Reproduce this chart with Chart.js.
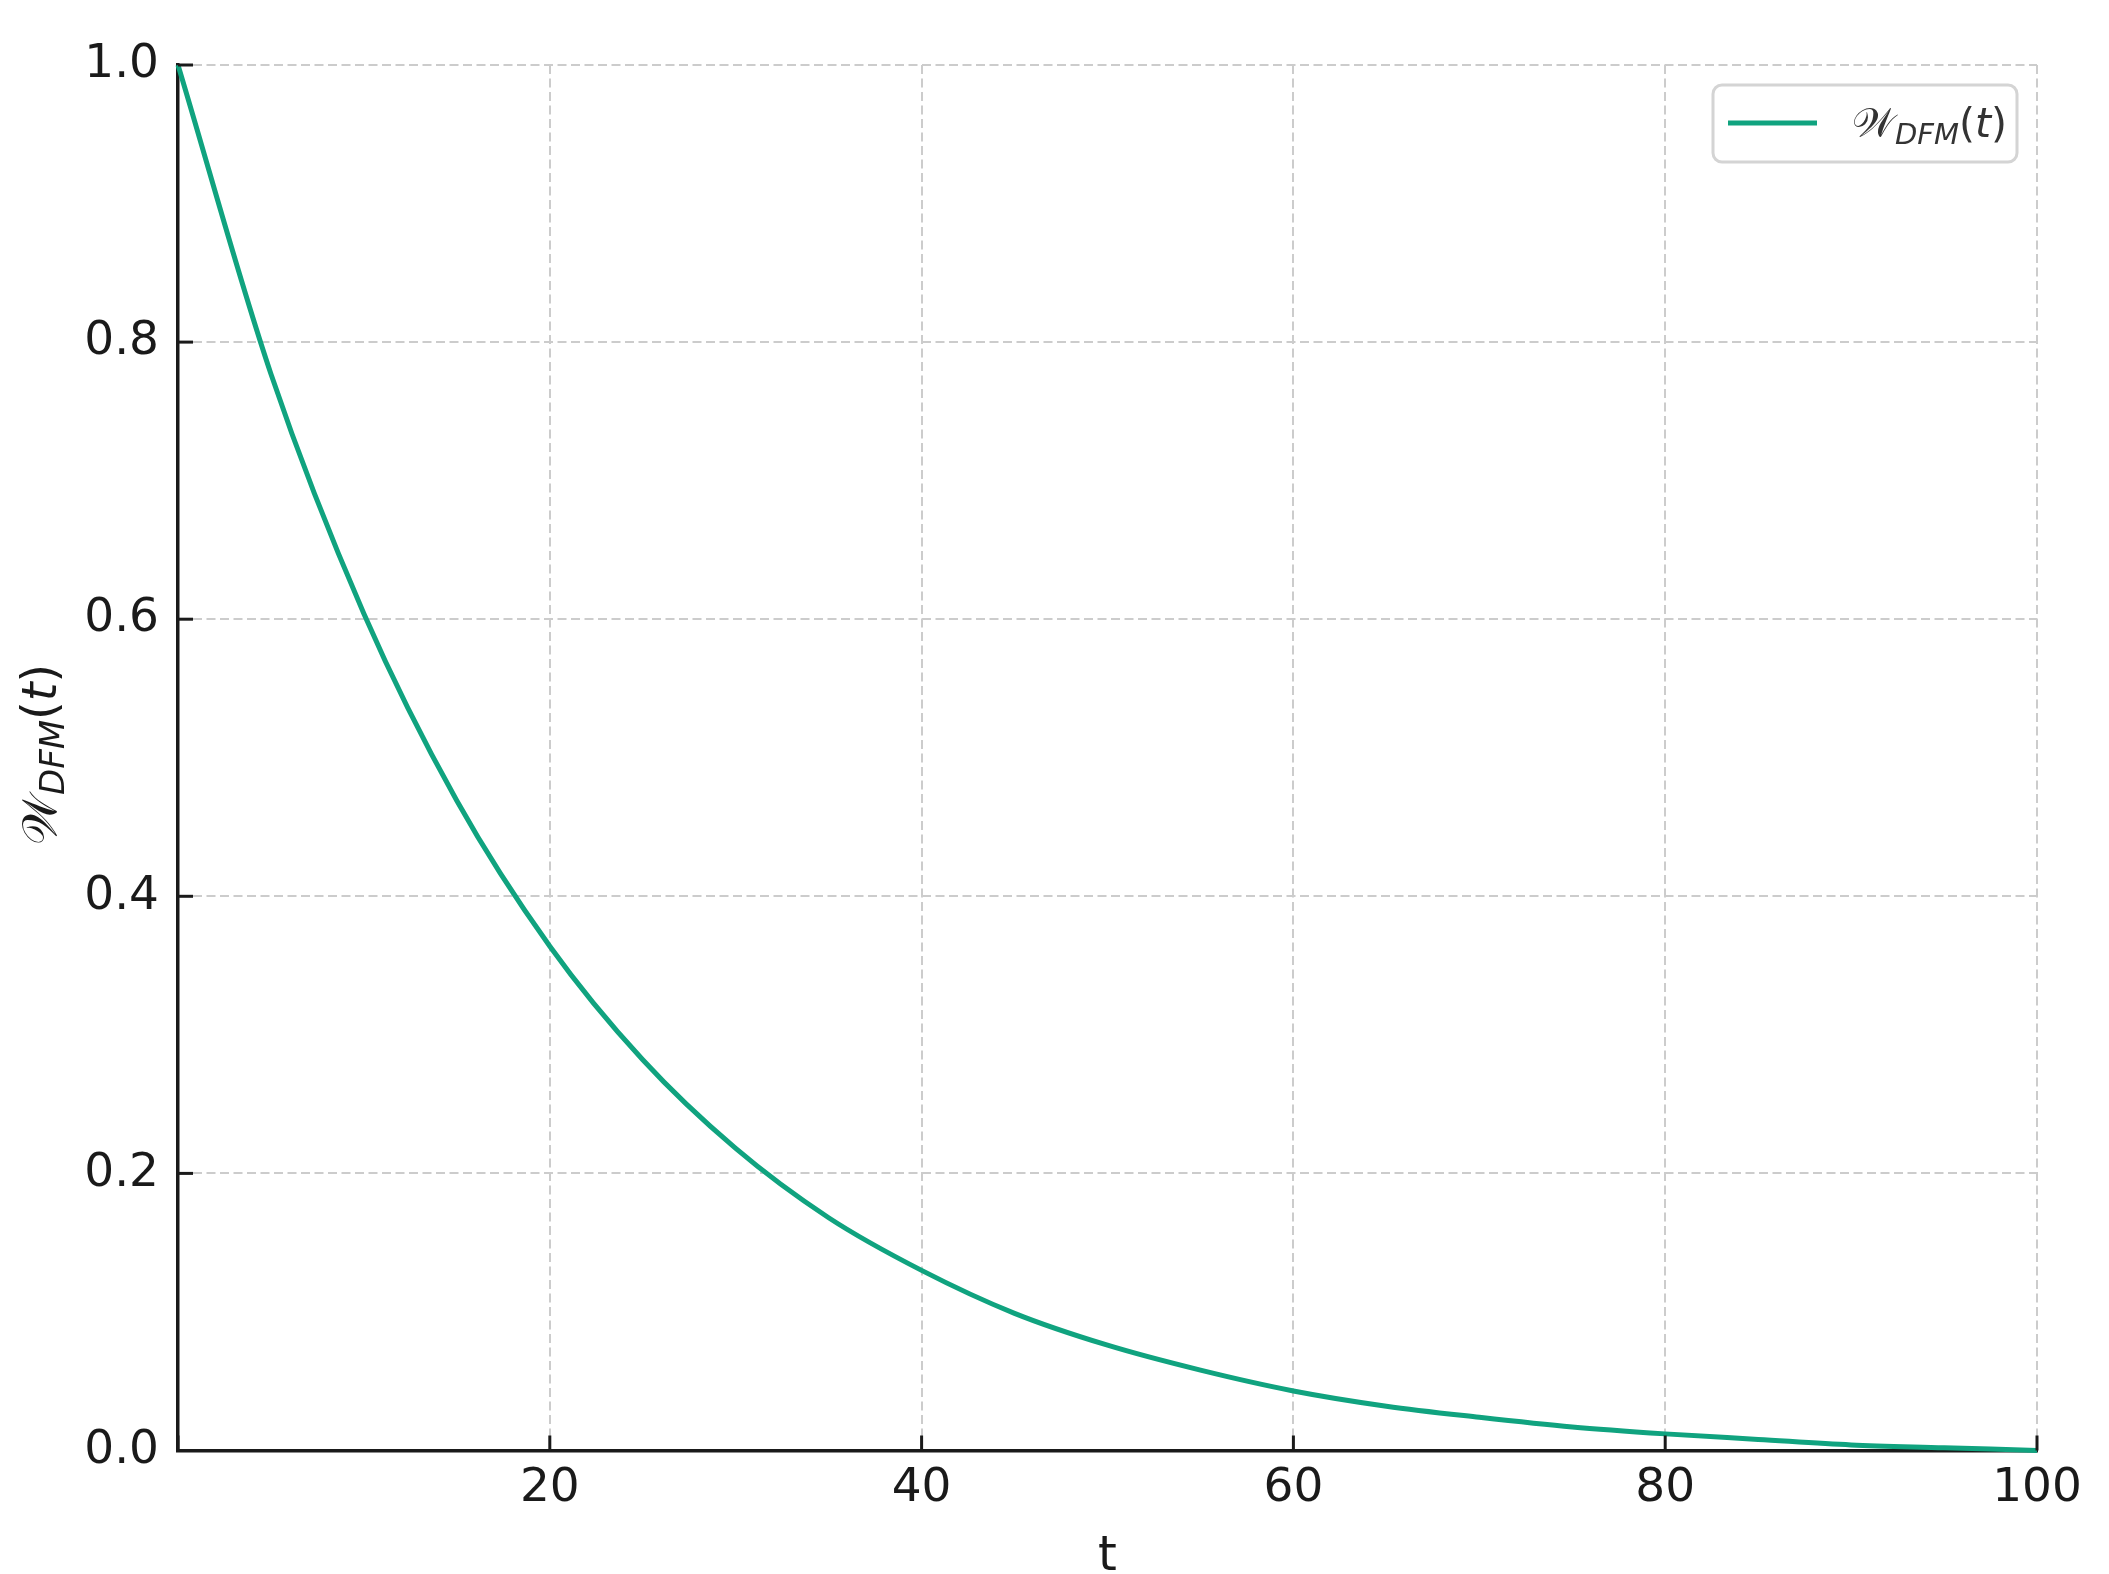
<!DOCTYPE html>
<html>
<head>
<meta charset="utf-8">
<script src="https://cdn.jsdelivr.net/npm/chart.js@4"></script>
<style>
  html, body { margin: 0; padding: 0; background: #fff; }
  #wrap { width: 2109px; height: 1574px; }
</style>
</head>
<body>
<div id="wrap"><canvas id="myChart" width="2109" height="1574"></canvas></div>
<script>
// values
var tValues = [0, 5, 10, 15, 20, 25, 30, 35, 40, 45, 50, 55, 60, 65, 70, 75, 80, 85, 90, 95, 100];
var wValues = [1.000, 0.777, 0.604, 0.469, 0.364, 0.282, 0.218, 0.168, 0.130, 0.099, 0.076,
               0.058, 0.043, 0.032, 0.024, 0.017, 0.012, 0.008, 0.004, 0.002, 0.000];
var xTicks = [0, 20, 40, 60, 80, 100];
var yTicks = [0.0, 0.2, 0.4, 0.6, 0.8, 1.0];

var lineColor = '#10a37f';
var ink = '#1a1a1a';
var gridColor = '#cccccc';

var points = [];
for (var i = 0; i < tValues.length; i++) points.push({x: tValues[i], y: wValues[i]});

// draws W_DFM(t) with a subscript, starting at (x, y) on the baseline
function drawWLabel(ctx, x, y, size) {
  var parts = [
    {text: '\uD835\uDCB2', font: size + 'px "DejaVu Serif"', dy: 0},
    {text: 'DFM', font: 'italic ' + Math.round(size * 0.7) + 'px "DejaVu Sans"', dy: size * 0.16},
    {text: '(', font: size + 'px "DejaVu Sans"', dy: 0},
    {text: 't', font: 'italic ' + size + 'px "DejaVu Sans"', dy: 0},
    {text: ')', font: size + 'px "DejaVu Sans"', dy: 0}
  ];
  ctx.textBaseline = 'alphabetic';
  ctx.textAlign = 'left';
  for (var k = 0; k < parts.length; k++) {
    ctx.font = parts[k].font;
    ctx.fillText(parts[k].text, x, y + parts[k].dy);
    x += ctx.measureText(parts[k].text).width;
  }
}

var extras = {
  id: 'extras',
  afterDraw: function(chart) {
    var ctx = chart.ctx;
    var xs = chart.scales.x, ys = chart.scales.y;
    var area = chart.chartArea;
    ctx.save();
    // inward ticks
    ctx.strokeStyle = ink;
    ctx.lineWidth = 3;
    yTicks.forEach(function(v) {
      var py = ys.getPixelForValue(v);
      ctx.beginPath(); ctx.moveTo(area.left, py); ctx.lineTo(area.left + 15, py); ctx.stroke();
    });
    xTicks.forEach(function(v) {
      var px = xs.getPixelForValue(v);
      ctx.beginPath(); ctx.moveTo(px, area.bottom); ctx.lineTo(px, area.bottom - 15); ctx.stroke();
    });
    // y axis label
    ctx.fillStyle = ink;
    ctx.save();
    ctx.translate(56, 845);
    ctx.rotate(-Math.PI / 2);
    drawWLabel(ctx, 0, 0, 48);
    ctx.restore();
    // legend
    var bx = 1713, by = 85, bw = 304, bh = 77, r = 9;
    ctx.fillStyle = 'rgba(255,255,255,0.8)';
    ctx.strokeStyle = '#d4d4d4';
    ctx.lineWidth = 3;
    ctx.beginPath();
    ctx.roundRect(bx, by, bw, bh, r);
    ctx.fill();
    ctx.stroke();
    ctx.strokeStyle = lineColor;
    ctx.lineWidth = 5;
    ctx.beginPath(); ctx.moveTo(1728, 123); ctx.lineTo(1817, 123); ctx.stroke();
    ctx.fillStyle = '#333333';
    drawWLabel(ctx, 1852, 137, 41);
    ctx.restore();
  }
};

var ctx = document.getElementById('myChart');
var myChart = new Chart(ctx, {
  type: 'line',
  data: {
    datasets: [{
      data: points,
      label: 'W_DFM(t)',
      borderColor: lineColor,
      borderWidth: 5,
      pointRadius: 0,
      fill: false,
      cubicInterpolationMode: 'monotone',
      clip: false
    }]
  },
  options: {
    responsive: false,
    animation: false,
    devicePixelRatio: 1,
    layout: { padding: { left: 0, right: 72, top: 65, bottom: 0 } },
    plugins: { legend: { display: false }, tooltip: { enabled: false } },
    scales: {
      x: {
        type: 'linear',
        min: 0, max: 100,
        afterBuildTicks: function(scale) { scale.ticks = xTicks.map(function(v) { return {value: v}; }); },
        afterFit: function(scale) { scale.height = 123.5; },
        ticks: {
          color: ink,
          font: { family: 'DejaVu Sans', size: 47 },
          padding: 10,
          maxRotation: 0,
          callback: function(v) { return v === 0 ? '' : String(v); }
        },
        grid: { color: gridColor, lineWidth: 2, drawTicks: false },
        border: { color: ink, width: 3.5, dash: [9, 4.5] },
        title: {
          display: true, text: 't', color: ink,
          font: { family: 'DejaVu Sans', size: 48 },
          padding: { top: 0, bottom: -12 }
        }
      },
      y: {
        type: 'linear',
        min: 0, max: 1,
        afterBuildTicks: function(scale) { scale.ticks = yTicks.map(function(v) { return {value: v}; }); },
        afterFit: function(scale) { scale.width = 178; },
        ticks: {
          color: ink,
          font: { family: 'DejaVu Sans', size: 47 },
          padding: 19,
          callback: function(v) { return v.toFixed(1); }
        },
        grid: { color: gridColor, lineWidth: 2, drawTicks: false },
        border: { color: ink, width: 3.5, dash: [9, 4.5] }
      }
    }
  },
  plugins: [extras]
});
</script>
</body>
</html>
